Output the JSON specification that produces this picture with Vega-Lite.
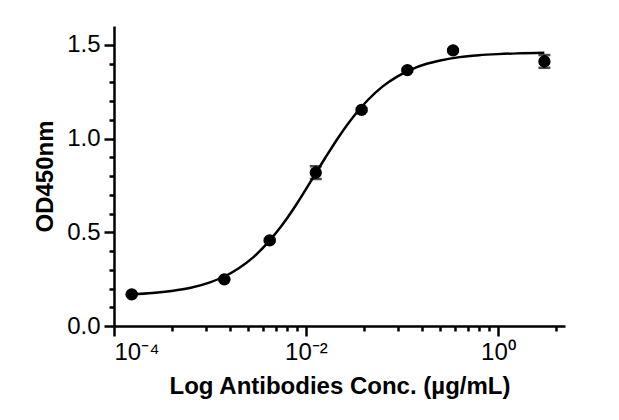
{
  "$schema": "https://vega.github.io/schema/vega-lite/v6.json",
  "width": 451,
  "height": 300,
  "autosize": {"type": "none"},
  "padding": {"left": 114, "top": 26, "right": 54, "bottom": 94},
  "background": "white",
  "config": {
    "view": {"stroke": null},
    "axis": {
      "domainColor": "black", "domainWidth": 2.5, "tickColor": "black", "tickWidth": 2.5,
      "labelColor": "black", "titleColor": "black", "grid": false,
      "labelFont": "Liberation Sans", "titleFont": "Liberation Sans",
      "labelFontSize": 24, "titleFontSize": 24, "titleFontWeight": "bold"
    }
  },
  "datasets": {
    "pts": [
      {"conc": 0.000153, "od": 0.169, "lo": 0.164, "hi": 0.174},
      {"conc": 0.00141, "od": 0.249, "lo": 0.244, "hi": 0.254},
      {"conc": 0.00419, "od": 0.457, "lo": 0.450, "hi": 0.464},
      {"conc": 0.01265, "od": 0.818, "lo": 0.784, "hi": 0.852},
      {"conc": 0.038, "od": 1.153, "lo": 1.145, "hi": 1.161},
      {"conc": 0.114, "od": 1.365, "lo": 1.358, "hi": 1.372},
      {"conc": 0.341, "od": 1.470, "lo": 1.463, "hi": 1.477},
      {"conc": 3.05, "od": 1.411, "lo": 1.377, "hi": 1.445}
    ],
    "curve": [
      {"conc": 0.0001531, "od": 0.169},
      {"conc": 0.0002512, "od": 0.176},
      {"conc": 0.0003981, "od": 0.187},
      {"conc": 0.000631, "od": 0.204},
      {"conc": 0.001, "od": 0.233},
      {"conc": 0.001413, "od": 0.264},
      {"conc": 0.001995, "od": 0.308},
      {"conc": 0.002818, "od": 0.366},
      {"conc": 0.003981, "od": 0.443},
      {"conc": 0.005623, "od": 0.537},
      {"conc": 0.007943, "od": 0.648},
      {"conc": 0.01122, "od": 0.771},
      {"conc": 0.01585, "od": 0.896},
      {"conc": 0.02239, "od": 1.015},
      {"conc": 0.03162, "od": 1.120},
      {"conc": 0.04467, "od": 1.208},
      {"conc": 0.0631, "od": 1.278},
      {"conc": 0.08913, "od": 1.330},
      {"conc": 0.1259, "od": 1.369},
      {"conc": 0.1778, "od": 1.397},
      {"conc": 0.2512, "od": 1.416},
      {"conc": 0.3981, "od": 1.434},
      {"conc": 0.631, "od": 1.444},
      {"conc": 1.0, "od": 1.450},
      {"conc": 1.585, "od": 1.454},
      {"conc": 3.048, "od": 1.457}
    ]
  },
  "resolve": {"axis": {"x": "independent", "y": "independent"}},
  "layer": [
    {
      "data": {"name": "curve"},
      "mark": {"type": "line", "color": "black", "strokeWidth": 2.5, "interpolate": "monotone"},
      "encoding": {
        "x": {"field": "conc", "type": "quantitative", "scale": {"type": "log", "domain": [0.0001, 5], "nice": false}, "axis": null},
        "y": {"field": "od", "type": "quantitative", "scale": {"domain": [0, 1.6], "nice": false, "zero": false}, "axis": null}
      }
    },
    {
      "data": {"name": "pts"},
      "mark": {"type": "rule", "color": "black", "strokeWidth": 2.5},
      "encoding": {
        "x": {"field": "conc", "type": "quantitative", "scale": {"type": "log", "domain": [0.0001, 5], "nice": false},
          "axis": {"orient": "bottom", "values": [0.0004, 0.0009, 0.0016, 0.0025, 0.0036, 0.0049, 0.0064, 0.0081, 0.04, 0.09, 0.16, 0.25, 0.36, 0.49, 0.64, 0.81, 4], "labels": false, "domain": false, "tickSize": 5, "title": null}},
        "y": {"field": "lo", "type": "quantitative", "scale": {"domain": [0, 1.6], "nice": false, "zero": false},
          "axis": {"orient": "left", "values": [0.1, 0.2, 0.3, 0.4, 0.6, 0.7, 0.8, 0.9, 1.1, 1.2, 1.3, 1.4], "labels": false, "domain": false, "tickSize": 5, "title": null}},
        "y2": {"field": "hi"}
      }
    },
    {
      "data": {"name": "pts"},
      "mark": {"type": "tick", "color": "black", "orient": "horizontal", "size": 12, "thickness": 2.5},
      "encoding": {
        "x": {"field": "conc", "type": "quantitative", "scale": {"type": "log", "domain": [0.0001, 5], "nice": false}, "axis": null},
        "y": {"field": "lo", "type": "quantitative", "scale": {"domain": [0, 1.6], "nice": false, "zero": false}, "axis": null}
      }
    },
    {
      "data": {"name": "pts"},
      "mark": {"type": "tick", "color": "black", "orient": "horizontal", "size": 12, "thickness": 2.5},
      "encoding": {
        "x": {"field": "conc", "type": "quantitative", "scale": {"type": "log", "domain": [0.0001, 5], "nice": false}, "axis": null},
        "y": {"field": "hi", "type": "quantitative", "scale": {"domain": [0, 1.6], "nice": false, "zero": false}, "axis": null}
      }
    },
    {
      "data": {"name": "pts"},
      "mark": {"type": "point", "filled": true, "shape": "circle", "color": "black", "size": 150, "opacity": 1},
      "encoding": {
        "x": {"field": "conc", "type": "quantitative", "scale": {"type": "log", "domain": [0.0001, 5], "nice": false},
          "axis": {"orient": "bottom", "values": [0.0001, 0.01, 1], "tickSize": 10, "labelPadding": 4,
            "labelExpr": "datum.value < 0.001 ? '10⁻⁴' : datum.value < 0.1 ? '10⁻²' : '10⁰'",
            "title": "Log Antibodies Conc. (µg/mL)", "titlePadding": 10}},
        "y": {"field": "od", "type": "quantitative", "scale": {"domain": [0, 1.6], "nice": false, "zero": false},
          "axis": {"orient": "left", "values": [0, 0.5, 1, 1.5], "format": ".1f", "tickSize": 10, "labelPadding": 4,
            "title": "OD450nm", "titlePadding": 9}}
      }
    }
  ]
}
